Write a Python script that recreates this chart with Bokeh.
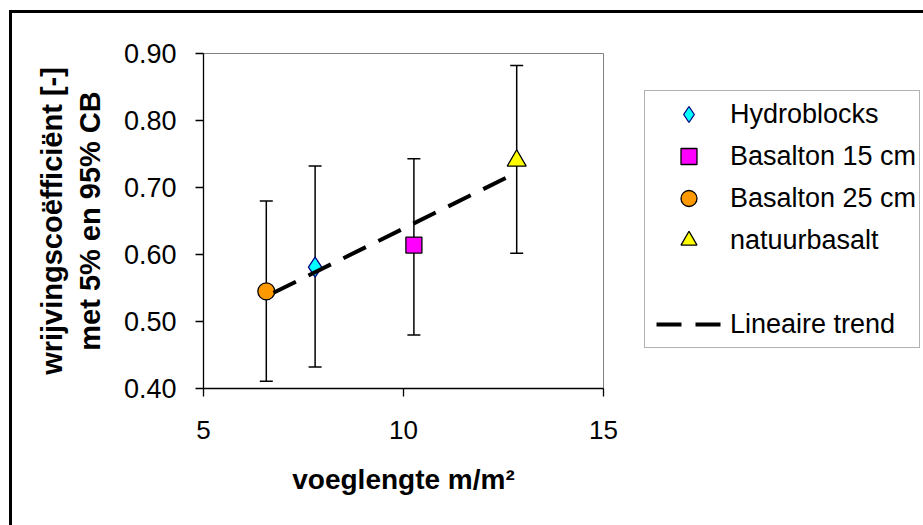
import numpy as np
from bokeh.plotting import figure
from bokeh.models import (Range1d, Whisker, ColumnDataSource, Legend, LegendItem,
                          TeeHead, FixedTicker, NumeralTickFormatter)
from bokeh.embed import file_html
from bokeh.resources import INLINE

# ---- data ----
series = ["Hydroblocks", "Basalton 15 cm", "Basalton 25 cm", "natuurbasalt"]
voeglengte = [7.79, 10.26, 6.57, 12.83]          # m/m2
wrijving = [0.581, 0.614, 0.545, 0.740]          # mean friction coefficient
cb_5 = [0.432, 0.480, 0.411, 0.602]              # 5% bound
cb_95 = [0.732, 0.743, 0.680, 0.882]             # 95% bound
x_ticks = [5, 10, 15]
y_ticks = [0.40, 0.50, 0.60, 0.70, 0.80, 0.90]

# ---- styles ----
markers = ["diamond", "square", "circle", "triangle"]
fills = ["#00FFFF", "#FF00FF", "#FF9900", "#FFFF00"]
edges = ["#000080", "#000000", "#000000", "#000000"]
sizes = [20, 16, 17, 19]
FONT = "Liberation Sans"

p = figure(frame_width=400, frame_height=335, output_backend="svg", toolbar_location=None,
           x_range=Range1d(5, 15), y_range=Range1d(0.40, 0.90),
           min_border_left=191, min_border_right=0, min_border_top=40,
           min_border_bottom=137, background_fill_color="white",
           border_fill_color="white", margin=(10, 0, 0, 9),
           styles={"border-left": "3px solid black", "border-top": "3px solid black"})
p.xgrid.visible = False
p.ygrid.visible = False
p.outline_line_color = "#808080"
p.outline_line_width = 1

for ax in (p.xaxis[0], p.yaxis[0]):
    ax.axis_line_color = "black"
    ax.axis_line_width = 1.3
    ax.major_tick_line_color = "black"
    ax.major_tick_line_width = 1.3
    ax.major_tick_out = 8
    ax.major_tick_in = 0
    ax.minor_tick_line_color = None
    ax.major_label_text_font = FONT
    ax.major_label_text_color = "black"
    ax.axis_label_text_font = FONT
    ax.axis_label_text_font_style = "bold"
    ax.axis_label_text_color = "black"

p.xaxis.ticker = FixedTicker(ticks=x_ticks)
p.yaxis.ticker = FixedTicker(ticks=y_ticks)
p.yaxis.formatter = NumeralTickFormatter(format="0.00")
p.xaxis.major_label_text_font_size = "26px"
p.yaxis.major_label_text_font_size = "27px"
p.xaxis.major_label_standoff = 24
p.yaxis.major_label_standoff = 19
p.xaxis.axis_label = "voeglengte m/m\u00b2"
p.yaxis.axis_label = "wrijvingsco\u00ebffici\u00ebnt [-]\nmet 5% en 95% CB"
p.xaxis.axis_label_text_font_size = "28px"
p.yaxis.axis_label_text_font_size = "29px"
p.xaxis.axis_label_standoff = 22
p.yaxis.axis_label_standoff = 15

# error bars (5% - 95% CB)
err_src = ColumnDataSource(dict(x=voeglengte, lower=cb_5, upper=cb_95))
p.add_layout(Whisker(base="x", lower="lower", upper="upper", source=err_src,
                     line_color="black", line_width=1.5,
                     upper_head=TeeHead(size=13, line_color="black", line_width=1.5),
                     lower_head=TeeHead(size=13, line_color="black", line_width=1.5)))

# markers
renderers = []
for i in range(len(series)):
    src = ColumnDataSource(dict(x=[voeglengte[i]], y=[wrijving[i]]))
    r = p.scatter("x", "y", source=src, marker=markers[i], size=sizes[i],
                  fill_color=fills[i], line_color=edges[i], line_width=1.3)
    renderers.append(r)

# linear trend (least squares over the four points)
coef = np.polyfit(voeglengte, wrijving, 1)
tx = [min(voeglengte), max(voeglengte)]
ty = list(np.polyval(coef, tx))
trend = p.line(tx, ty, line_color="black", line_width=4, line_dash="25 14",
               line_dash_offset=31)

# blank legend row (spacer, as in the reference legend)
blank = p.scatter(x=[], y=[], marker="circle", fill_alpha=0, line_alpha=0)

items = [LegendItem(label=series[i], renderers=[renderers[i]]) for i in range(len(series))]
items.append(LegendItem(label=" ", renderers=[blank]))
items.append(LegendItem(label="Lineaire trend", renderers=[trend]))

legend = Legend(items=items, location=(41, 40), margin=0, padding=3, spacing=2,
                glyph_width=81, glyph_height=40, label_height=40, label_standoff=1,
                label_text_font=FONT, label_text_font_size="27px",
                label_text_color="black", border_line_color="#666666",
                border_line_width=1.5, background_fill_color="white",
                background_fill_alpha=1.0)
p.add_layout(legend, "right")

open("out.html", "w").write(file_html(p, INLINE))
